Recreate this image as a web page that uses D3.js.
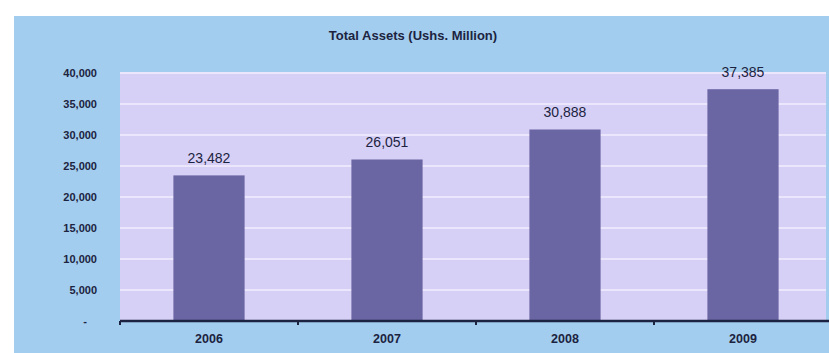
<!DOCTYPE html>
<html lang="en">
<head>
  <meta charset="UTF-8">
  <title>Total Assets (Ushs. Million)</title>
  <script src="https://d3js.org/d3.v7.min.js"></script>
  <style>
    body { margin: 0; background: #fff; }
    .tick text { font-family: "Liberation Sans", Arial, sans-serif; font-weight: bold; fill: #1c2340; }
    .label { font-family: "Liberation Sans", Arial, sans-serif; font-size: 14px; text-anchor: middle; fill: #1c2340; }
  </style>
</head>
<body>
  <div id="chart"></div>
  <script>
    const years = ["2006", "2007", "2008", "2009"];
    const assets = [23482, 26051, 30888, 37385];
    const yTicks = [0, 5000, 10000, 15000, 20000, 25000, 30000, 35000, 40000];

    const W = 829, H = 353;
    const plot = { left: 120, right: 826, top: 73, bottom: 321 };

    const svg = d3.select("#chart").append("svg")
      .attr("width", W).attr("height", H);

    // outer light blue panel
    svg.append("rect")
      .attr("x", 14).attr("y", 16).attr("width", W - 14).attr("height", H - 16)
      .attr("fill", "#a3cdee");

    svg.append("text")
      .attr("x", 413).attr("y", 40)
      .attr("text-anchor", "middle")
      .attr("font-family", "Liberation Sans, Arial, sans-serif")
      .attr("font-size", 13).attr("font-weight", "bold")
      .attr("fill", "#1c2340")
      .text("Total Assets (Ushs. Million)");

    const x = d3.scaleBand()
      .domain(years)
      .range([plot.left, plot.left + 712])
      .paddingInner(0.6)
      .paddingOuter(0.3);

    const y = d3.scaleLinear()
      .domain([0, 40000])
      .range([plot.bottom, plot.top]);

    // lavender plot area
    svg.append("rect")
      .attr("x", plot.left).attr("y", plot.top)
      .attr("width", plot.right - plot.left).attr("height", plot.bottom - plot.top)
      .attr("fill", "#d6cff6");

    // grid lines
    svg.append("g")
      .selectAll("line")
      .data(yTicks.filter(d => d > 0))
      .enter().append("line")
      .attr("x1", plot.left).attr("x2", plot.right)
      .attr("y1", d => y(d)).attr("y2", d => y(d))
      .attr("stroke", "#ebe6fc").attr("stroke-width", 2);

    // y axis (labels only)
    const yAxis = svg.append("g")
      .attr("transform", `translate(${plot.left - 20},0)`)
      .call(d3.axisLeft(y).tickValues(yTicks).tickSize(0)
        .tickFormat(d => d === 0 ? "-" : d3.format(",")(d)));
    yAxis.select(".domain").remove();
    yAxis.selectAll("text").attr("font-size", 11).attr("dx", 0);
    yAxis.selectAll(".tick").filter(d => d === 0).select("text").attr("dx", -10);

    // bars
    svg.selectAll(".bar")
      .data(years)
      .enter().append("rect")
      .attr("class", "bar")
      .attr("x", d => x(d))
      .attr("y", (d, i) => y(assets[i]))
      .attr("width", x.bandwidth())
      .attr("height", (d, i) => plot.bottom - y(assets[i]))
      .attr("fill", "#6a65a3");

    // value labels
    svg.selectAll(".label")
      .data(years)
      .enter().append("text")
      .attr("class", "label")
      .attr("x", d => x(d) + x.bandwidth() / 2)
      .attr("y", (d, i) => y(assets[i]) - 12)
      .text((d, i) => d3.format(",")(assets[i]));

    // x axis
    const xAxis = svg.append("g")
      .attr("transform", `translate(0,${plot.bottom})`)
      .call(d3.axisBottom(x).tickSize(0).tickPadding(13));
    xAxis.select(".domain").attr("stroke", "#1c2340").attr("stroke-width", 2.5)
      .attr("d", `M${plot.left},0H${W}`);
    xAxis.selectAll("text").attr("font-size", 12.5);

    // category separator ticks
    const step = x.step();
    svg.append("g")
      .selectAll("line")
      .data(d3.range(years.length))
      .enter().append("line")
      .attr("x1", i => plot.left + i * step).attr("x2", i => plot.left + i * step)
      .attr("y1", plot.bottom).attr("y2", plot.bottom + 4)
      .attr("stroke", "#1c2340").attr("stroke-width", 2);
  </script>
</body>
</html>
